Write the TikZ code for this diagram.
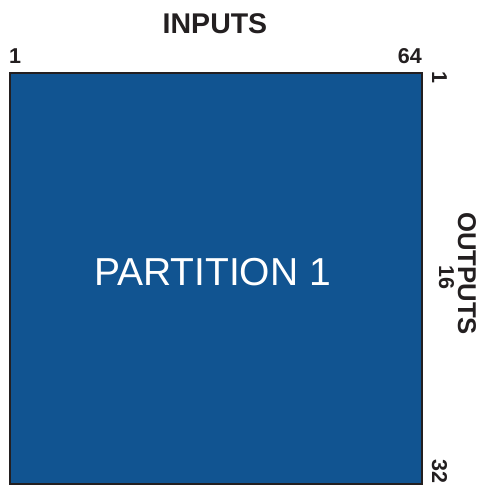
\documentclass[tikz,border=0pt]{standalone}
\usepackage{fontspec}
\setmainfont{Liberation Sans}
\definecolor{partblue}{RGB}{17,84,145}
\definecolor{labeldark}{RGB}{35,31,32}
\tikzset{
  lbl/.style={font=\bfseries\fontsize{21.5}{21.5}\selectfont, text=labeldark, inner sep=0pt},
  title/.style={font=\bfseries\fontsize{28.5}{28.5}\selectfont, text=labeldark, inner sep=0pt},
  sidetitle/.style={font=\bfseries\fontsize{25.7}{25.7}\selectfont, text=labeldark, inner sep=0pt},
  partbox/.style={draw=labeldark, line width=2.5pt, fill=partblue}
}
\begin{document}
\begin{tikzpicture}[x=1pt,y=-1pt]
\useasboundingbox (0,0) rectangle (484,485);
\fill[white] (0,0) rectangle (484,485);
\node[partbox, minimum width=412pt, minimum height=411pt, anchor=north west, inner sep=0pt] (box) at (8.5,71.5) {};
\node[font=\fontsize{39}{39}\selectfont, text=white, inner sep=0pt] (part) at (212.5,272.5) {PARTITION 1};
\node[title, anchor=base] (inputs) at (215,33) {INPUTS};
\node[lbl, anchor=base west] (in1) at (9,63) {1};
\node[lbl, anchor=base east] (in64) at (422,63) {64};
\node[lbl, rotate=-90, anchor=base west] (out1) at (432,71) {1};
\node[lbl, rotate=-90, anchor=base] (out16) at (439,277) {16};
\node[lbl, rotate=-90, anchor=base east] (out32) at (432,484) {32};
\node[sidetitle, rotate=-90, anchor=base] (outputs) at (458,273.5) {OUTPUTS};
\end{tikzpicture}
\end{document}
